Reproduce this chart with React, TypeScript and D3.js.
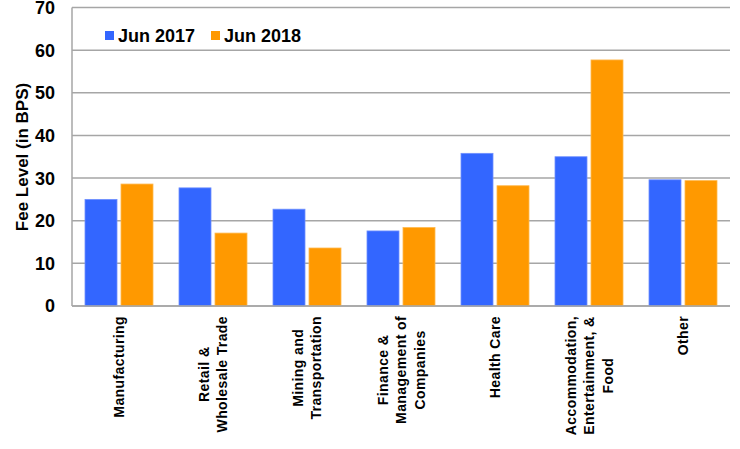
import React, { useEffect, useRef } from "react";
import * as d3 from "d3";

const categories: string[][] = [
  ["Manufacturing"],
  ["Retail &", "Wholesale Trade"],
  ["Mining and", "Transportation"],
  ["Finance &", "Management of", "Companies"],
  ["Health Care"],
  ["Accommodation,", "Entertainment, &", "Food"],
  ["Other"],
];
const jun2017: number[] = [25.0, 27.7, 22.7, 17.6, 35.8, 35.0, 29.6];
const jun2018: number[] = [28.6, 17.1, 13.6, 18.4, 28.2, 57.7, 29.4];
const seriesNames: string[] = ["Jun 2017", "Jun 2018"];
const yTicks: number[] = [0, 10, 20, 30, 40, 50, 60, 70];

const W = 740;
const H = 449;
const FONT = "'Liberation Sans', Arial, Helvetica, sans-serif";
const COLORS = ["#3366FF", "#FF9900"];

export default function App() {
  const ref = useRef<SVGSVGElement | null>(null);

  useEffect(() => {
    const svg = d3.select(ref.current);
    svg.selectAll("*").remove();

    const left = 72, right = 730, top = 7.5, bottom = 306;
    const x = d3.scaleBand<number>().domain(d3.range(categories.length)).range([left, right]).paddingInner(0).paddingOuter(0);
    const y = d3.scaleLinear().domain([0, 70]).range([bottom, top]);
    const barW = 32, gap = 4;

    // gridlines
    svg.append("g").selectAll("line").data(yTicks).join("line")
      .attr("x1", left).attr("x2", right)
      .attr("y1", (d) => y(d)).attr("y2", (d) => y(d))
      .attr("stroke", "#a6a6a6").attr("stroke-width", 1.5);
    // left axis
    svg.append("line").attr("x1", left).attr("x2", left).attr("y1", y(70)).attr("y2", y(0))
      .attr("stroke", "#a6a6a6").attr("stroke-width", 1.5);

    // y tick labels
    svg.append("g").selectAll("text").data(yTicks).join("text")
      .attr("x", 55).attr("y", (d) => y(d)).attr("dy", "0.36em")
      .attr("text-anchor", "end").attr("font-family", FONT).attr("font-weight", "bold")
      .attr("font-size", 18).attr("fill", "#000").text((d) => String(d));

    // y title
    svg.append("text")
      .attr("transform", `translate(28,157) rotate(-90)`)
      .attr("text-anchor", "middle").attr("font-family", FONT).attr("font-weight", "bold")
      .attr("font-size", 17).attr("fill", "#000").text("Fee Level (in BPS)");

    // bars
    const series = [jun2017, jun2018];
    series.forEach((vals, si) => {
      svg.append("g").selectAll("rect").data(vals).join("rect")
        .attr("x", (_d, i) => (x(i) as number) + x.bandwidth() / 2 - barW - gap / 2 + si * (barW + gap))
        .attr("y", (d) => y(d))
        .attr("width", barW)
        .attr("height", (d) => y(0) - y(d))
        .attr("fill", COLORS[si])
        .attr("stroke", si === 0 ? "#6f8fff" : "#ffb84d")
        .attr("stroke-width", 0.8);
    });

    // bottom axis
    svg.append("line").attr("x1", left).attr("x2", right).attr("y1", y(0)).attr("y2", y(0))
      .attr("stroke", "#a6a6a6").attr("stroke-width", 1.5);

    // x labels
    const lineGap = 18.5;
    categories.forEach((lines, i) => {
      const cx = (x(i) as number) + x.bandwidth() / 2;
      const g = svg.append("g");
      const texts = lines.map((ln) =>
        g.append("text").attr("font-family", FONT).attr("font-weight", "bold")
          .attr("font-size", 14).attr("letter-spacing", 0.4).attr("fill", "#000")
          .attr("text-anchor", "middle").text(ln)
      );
      let maxLen = 0;
      texts.forEach((t) => {
        const n = (t.node() as SVGTextElement).getComputedTextLength();
        if (n > maxLen) maxLen = n;
      });
      const cy = 316 + maxLen / 2;
      const n = lines.length;
      texts.forEach((t, k) => {
        const lx = cx + (k - (n - 1) / 2) * lineGap;
        t.attr("transform", `translate(${lx + 5},${cy}) rotate(-90)`);
      });
    });

    // legend
    const legX = [105, 211];
    seriesNames.forEach((name, si) => {
      svg.append("rect").attr("x", legX[si]).attr("y", 31).attr("width", 9).attr("height", 9)
        .attr("fill", COLORS[si]);
      svg.append("text").attr("x", legX[si] + 13).attr("y", 42)
        .attr("font-family", FONT).attr("font-weight", "bold").attr("font-size", 18)
        .attr("fill", "#000").text(name);
    });
  }, []);

  return (
    <svg
      ref={ref}
      width={W}
      height={H}
      style={{ position: "fixed", top: 0, left: 0, background: "#fff" }}
    />
  );
}
